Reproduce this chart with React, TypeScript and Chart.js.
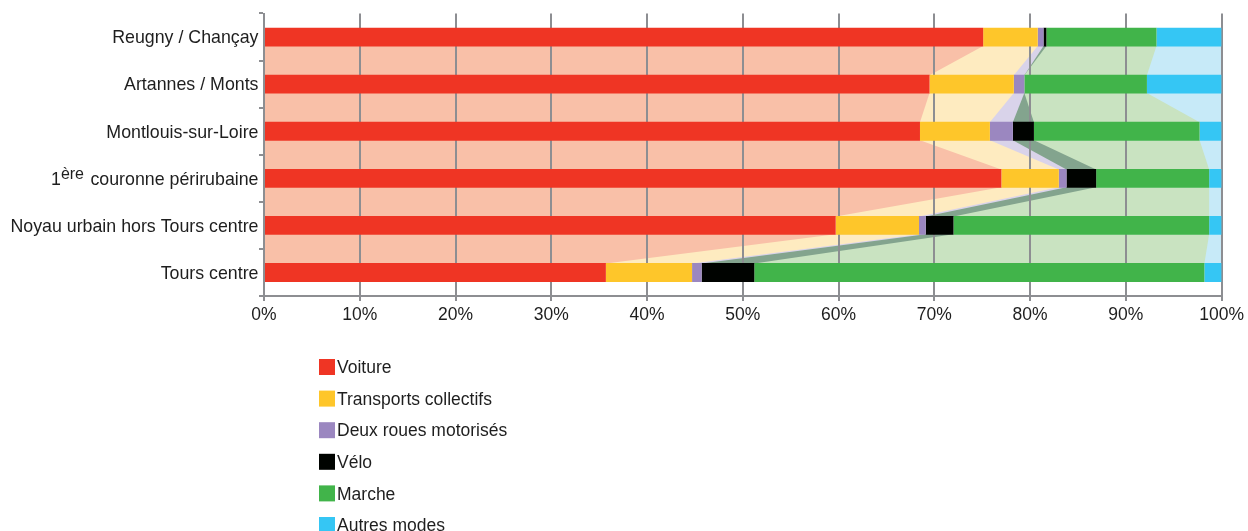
import React, { useEffect, useRef } from 'react';
import { Chart, registerables } from 'chart.js';

Chart.register(...registerables);

// Zones, top to bottom
const categories = [
  'Reugny / Chançay',
  'Artannes / Monts',
  'Montlouis-sur-Loire',
  '1ère couronne périrubaine',
  'Noyau urbain hors Tours centre',
  'Tours centre',
];

const modes = [
  'Voiture',
  'Transports collectifs',
  'Deux roues motorisés',
  'Vélo',
  'Marche',
  'Autres modes',
];

// Modal share (%) per zone
const voiture = [75.1, 69.5, 68.5, 77.0, 59.7, 35.7];
const transportsCollectifs = [5.7, 8.8, 7.3, 6.0, 8.7, 9.0];
const deuxRoues = [0.6, 1.1, 2.4, 0.8, 0.7, 1.0];
const velo = [0.3, 0.0, 2.2, 3.1, 2.9, 5.5];
const marche = [11.5, 12.8, 17.3, 11.8, 26.7, 47.0];
const autres = [6.8, 7.8, 2.3, 1.3, 1.3, 1.8];

const xTickValues = [0, 10, 20, 30, 40, 50, 60, 70, 80, 90, 100];

const barColors = ['#EF3524', '#FEC62A', '#9B87C0', '#000300', '#41B44A', '#35C6F4'];
const bandColors = ['#F9C0A8', '#FEEBC0', '#D9D3EA', '#83A48E', '#C9E3C1', '#C7EAF8'];

const FONT = '"Liberation Sans", Arial, Helvetica, sans-serif';
const TEXT = '#1e1e1e';
const AXIS = '#8D8E92';
const LABEL_SIZE = 17.8;

// Light bands joining each mode's segment from one bar to the next
const connectorPlugin = {
  id: 'connectors',
  beforeDraw(chart: any) {
    const ctx = chart.ctx;
    const left = chart.chartArea.left;
    const n = chart.data.labels.length;
    ctx.save();
    for (let d = chart.data.datasets.length - 1; d >= 0; d--) {
      const meta = chart.getDatasetMeta(d);
      ctx.fillStyle = bandColors[d];
      for (let j = 0; j < n - 1; j++) {
        const a = meta.data[j].getProps(['x', 'y', 'height'], true);
        const b = meta.data[j + 1].getProps(['x', 'y', 'height'], true);
        const y1 = a.y + a.height / 2;
        const y2 = b.y - b.height / 2;
        ctx.beginPath();
        ctx.moveTo(left, y1 - 0.5);
        ctx.lineTo(a.x, y1 - 0.5);
        ctx.lineTo(b.x, y2 + 0.5);
        ctx.lineTo(left, y2 + 0.5);
        ctx.closePath();
        ctx.fill();
      }
    }
    ctx.restore();
  },
};

// Category labels (with superscript ordinal) and the vertical legend
const labelsPlugin = {
  id: 'labelsAndLegend',
  afterDraw(chart: any) {
    const ctx = chart.ctx;
    const yScale = chart.scales.y;
    const xRight = yScale.right - 5.5;
    ctx.save();
    ctx.fillStyle = TEXT;
    ctx.textBaseline = 'alphabetic';
    categories.forEach((label, i) => {
      const y = yScale.getPixelForValue(i) + 6.3;
      const m = label.match(/^(\d+)(ère|er|e)\s(.*)$/);
      ctx.textAlign = 'right';
      ctx.font = `${LABEL_SIZE}px ${FONT}`;
      if (!m) {
        ctx.fillText(label, xRight, y);
        return;
      }
      const rest = ' ' + m[3];
      ctx.fillText(rest, xRight, y);
      let x = xRight - ctx.measureText(rest).width - 1.5;
      ctx.font = `16px ${FONT}`;
      ctx.fillText(m[2], x, y - 5.5);
      x -= ctx.measureText(m[2]).width;
      ctx.font = `${LABEL_SIZE}px ${FONT}`;
      ctx.fillText(m[1], x, y);
    });

    // Legend
    const lx = 319;
    const ly0 = 367;
    const step = 31.6;
    ctx.textAlign = 'left';
    ctx.font = `17.5px ${FONT}`;
    modes.forEach((name, i) => {
      const cy = ly0 + i * step;
      ctx.fillStyle = barColors[i];
      ctx.fillRect(lx, cy - 8, 16, 16);
      ctx.fillStyle = TEXT;
      ctx.fillText(name, lx + 18, cy + 6.2);
    });
    ctx.restore();
  },
};

export default function App() {
  const canvasRef = useRef<HTMLCanvasElement | null>(null);

  useEffect(() => {
    if (!canvasRef.current) return;
    const series = [voiture, transportsCollectifs, deuxRoues, velo, marche, autres];
    const chart = new Chart(canvasRef.current, {
      type: 'bar',
      data: {
        labels: categories,
        datasets: modes.map((m, i) => ({
          label: m,
          data: series[i],
          backgroundColor: barColors[i],
          borderWidth: 0,
          barPercentage: 0.4,
          categoryPercentage: 1,
        })),
      },
      options: {
        indexAxis: 'y',
        animation: false,
        responsive: true,
        maintainAspectRatio: false,
        layout: { padding: { top: 13.5, right: 26, left: 0, bottom: 0 } },
        plugins: {
          legend: { display: false },
          tooltip: { enabled: false },
        },
        scales: {
          x: {
            stacked: true,
            min: 0,
            max: 100,
            afterFit: (scale: any) => {
              scale.height = 235;
            },
            afterBuildTicks: (scale: any) => {
              scale.ticks = xTickValues.map((v) => ({ value: v }));
            },
            grid: {
              color: AXIS,
              lineWidth: 2,
              tickLength: 5,
              drawTicks: true,
            },
            border: { color: AXIS, width: 2 },
            ticks: {
              maxRotation: 0,
              padding: 4,
              color: TEXT,
              font: { family: FONT, size: 17.5 },
              callback: (v: any) => `${v}%`,
            },
          },
          y: {
            stacked: true,
            afterFit: (scale: any) => {
              scale.width = 264;
            },
            grid: {
              offset: true,
              drawOnChartArea: false,
              color: AXIS,
              lineWidth: 2,
              tickLength: 5,
            },
            border: { color: AXIS, width: 2 },
            ticks: {
              color: 'rgba(0,0,0,0)',
              font: { family: FONT, size: 17.5 },
            },
          },
        },
      },
      plugins: [connectorPlugin, labelsPlugin],
    });
    return () => chart.destroy();
  }, []);

  return (
    <div style={{ position: 'fixed', left: 0, top: 0, width: 1248, height: 531, background: '#fff' }}>
      <canvas ref={canvasRef} />
    </div>
  );
}
